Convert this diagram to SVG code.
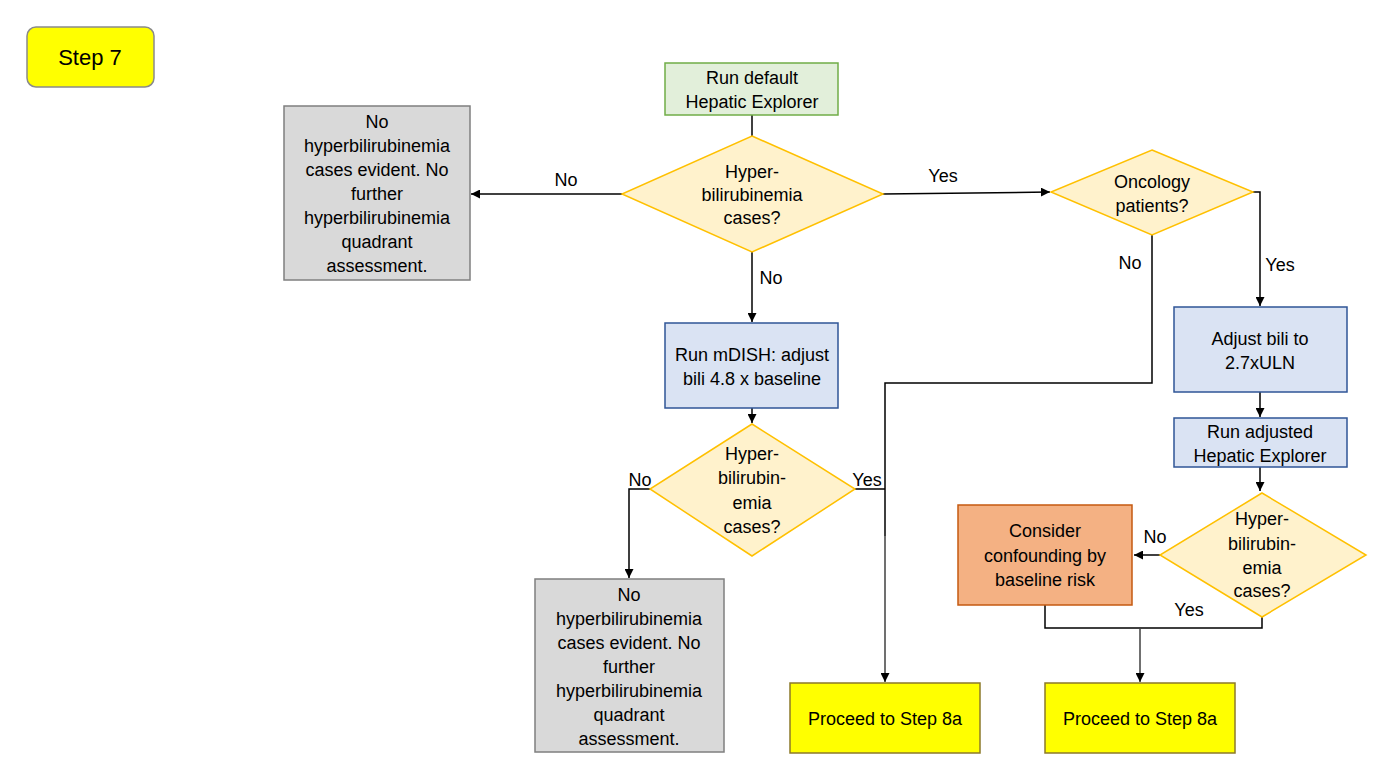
<svg xmlns="http://www.w3.org/2000/svg" width="1391" height="779" viewBox="0 0 1391 779">
<defs>
<marker id="ah" viewBox="0 0 10 10" refX="10" refY="5" markerWidth="9" markerHeight="9" markerUnits="userSpaceOnUse" orient="auto">
<path d="M0,0 L10,5 L0,10 z" fill="#000"/>
</marker>
<style>
text{font-family:"Liberation Sans",Arial,sans-serif;font-size:18px;fill:#000;text-anchor:middle}
.lbl{font-size:18px}
.green{fill:#E2EFDA;stroke:#70AD47;stroke-width:1.5}
.dia{fill:#FFF2CC;stroke:#FFC000;stroke-width:1.5}
.blue{fill:#DAE3F3;stroke:#2F5597;stroke-width:1.5}
.gray{fill:#D9D9D9;stroke:#7F7F7F;stroke-width:1.5}
.orange{fill:#F4B183;stroke:#C55A11;stroke-width:1.5}
.yel{fill:#FFFF00;stroke:#8C7A2A;stroke-width:1.5}
.conn{fill:none;stroke:#000;stroke-width:1.5}
.conn2{fill:none;stroke:#404040;stroke-width:1.5}
</style>
</defs>
<rect width="1391" height="779" fill="#fff"/>

<g id="connectors">
<path class="conn" d="M752,115 L752,136"/>
<path class="conn" d="M622,194 L471,194" marker-end="url(#ah)"/>
<path class="conn" d="M883,194 L1050,192" marker-end="url(#ah)"/>
<path class="conn" d="M752,252 L752,322" marker-end="url(#ah)"/>
<path class="conn" d="M1253,192 L1260,192 L1260,306" marker-end="url(#ah)"/>
<path class="conn" d="M1152,235 L1152,383 L885,383 L885,536"/>
<path class="conn2" d="M885,536 L885,682" marker-end="url(#ah)"/>
<path class="conn" d="M855,489 L885,489"/>
<path class="conn" d="M752,408 L752,423" marker-end="url(#ah)"/>
<path class="conn" d="M650,489 L629,489 L629,578" marker-end="url(#ah)"/>
<path class="conn" d="M1260,392 L1260,417" marker-end="url(#ah)"/>
<path class="conn" d="M1260,467 L1260,491" marker-end="url(#ah)"/>
<path class="conn" d="M1160,555 L1134,555" marker-end="url(#ah)"/>
<path class="conn" d="M1262,617 L1262,628 L1045,628 L1045,605"/>
<path class="conn2" d="M1140,628 L1140,682" marker-end="url(#ah)"/>
<text class="lbl" x="566" y="186">No</text>
<text class="lbl" x="943" y="182">Yes</text>
<text class="lbl" x="771" y="284">No</text>
<text class="lbl" x="1130" y="269">No</text>
<text class="lbl" x="1280" y="271">Yes</text>
<text class="lbl" x="640" y="486">No</text>
<text class="lbl" x="867" y="486">Yes</text>
<text class="lbl" x="1155" y="543">No</text>
<text class="lbl" x="1189" y="616">Yes</text>
</g>

<g id="step7">
<rect x="27" y="27" width="127" height="60" rx="9" ry="9" fill="#FFFF00" stroke="#8A8A8A" stroke-width="1.5"/>
<text x="90" y="65" style="font-size:22px">Step 7</text>
</g>

<g id="run-default">
<rect class="green" x="665" y="63" width="173" height="52"/>
<text x="752" y="84">Run default</text>
<text x="752" y="108">Hepatic Explorer</text>
</g>

<g id="decision1">
<polygon class="dia" points="752,136 883,194 752,252 622,194"/>
<text x="752" y="178">Hyper-</text>
<text x="752" y="201">bilirubinemia</text>
<text x="752" y="224">cases?</text>
</g>

<g id="no-cases-1">
<rect class="gray" x="284" y="106" width="186" height="174"/>
<text x="377" y="128">No</text>
<text x="377" y="152">hyperbilirubinemia</text>
<text x="377" y="176">cases evident. No</text>
<text x="377" y="200">further</text>
<text x="377" y="224">hyperbilirubinemia</text>
<text x="377" y="248">quadrant</text>
<text x="377" y="272">assessment.</text>
</g>

<g id="oncology">
<polygon class="dia" points="1152,150 1253,192 1152,235 1051,192"/>
<text x="1152" y="188">Oncology</text>
<text x="1152" y="212">patients?</text>
</g>

<g id="mdish">
<rect class="blue" x="665" y="323" width="173" height="85"/>
<text x="752" y="361">Run mDISH: adjust</text>
<text x="752" y="385">bili 4.8 x baseline</text>
</g>

<g id="decision2">
<polygon class="dia" points="752,424 855,489 752,556 650,489"/>
<text x="752" y="460">Hyper-</text>
<text x="752" y="484">bilirubin-</text>
<text x="752" y="509">emia</text>
<text x="752" y="533">cases?</text>
</g>

<g id="no-cases-2">
<rect class="gray" x="535" y="579" width="189" height="173"/>
<text x="629" y="601">No</text>
<text x="629" y="625">hyperbilirubinemia</text>
<text x="629" y="649">cases evident. No</text>
<text x="629" y="673">further</text>
<text x="629" y="697">hyperbilirubinemia</text>
<text x="629" y="721">quadrant</text>
<text x="629" y="745">assessment.</text>
</g>

<g id="adjust-bili">
<rect class="blue" x="1174" y="307" width="173" height="85"/>
<text x="1260" y="345">Adjust bili to</text>
<text x="1260" y="369">2.7xULN</text>
</g>

<g id="run-adjusted">
<rect class="blue" x="1174" y="418" width="173" height="49"/>
<text x="1260" y="438">Run adjusted</text>
<text x="1260" y="462">Hepatic Explorer</text>
</g>

<g id="decision3">
<polygon class="dia" points="1262,493 1366,555 1262,617 1160,555"/>
<text x="1262" y="525">Hyper-</text>
<text x="1262" y="550">bilirubin-</text>
<text x="1262" y="574">emia</text>
<text x="1262" y="597">cases?</text>
</g>

<g id="confounding">
<rect class="orange" x="958" y="505" width="174" height="100"/>
<text x="1045" y="537">Consider</text>
<text x="1045" y="562">confounding by</text>
<text x="1045" y="586">baseline risk</text>
</g>

<g id="proceed-1">
<rect class="yel" x="790" y="683" width="190" height="70"/>
<text x="885" y="725">Proceed to Step 8a</text>
</g>

<g id="proceed-2">
<rect class="yel" x="1045" y="683" width="190" height="70"/>
<text x="1140" y="725">Proceed to Step 8a</text>
</g>
</svg>
